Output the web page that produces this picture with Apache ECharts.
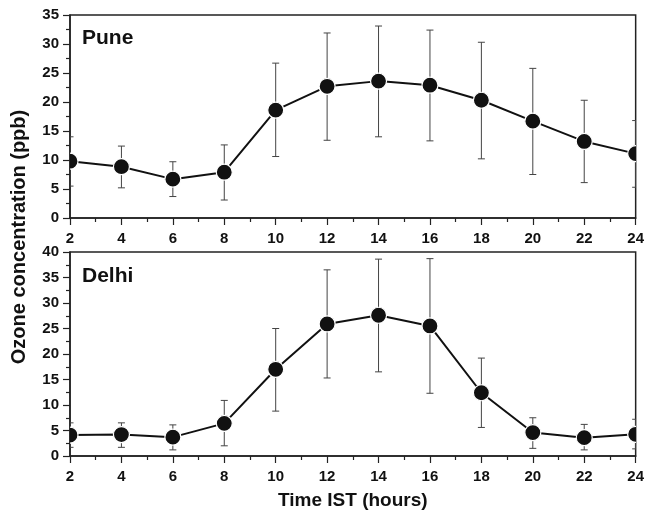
<!DOCTYPE html>
<html>
<head>
<meta charset="utf-8">
<script src="https://cdn.jsdelivr.net/npm/echarts@6/dist/echarts.min.js"></script>
<style>html,body{margin:0;padding:0;background:#fff;}#c{width:647px;height:517px;}</style>
</head>
<body>
<div id="c"></div>
<script>
var hours = [2, 4, 6, 8, 10, 12, 14, 16, 18, 20, 22, 24];
var puneMean  = [9.8, 8.85, 6.7, 7.9, 18.6, 22.7, 23.6, 22.9, 20.3, 16.7, 13.2, 11.1];
var puneUpper = [14.0, 12.4, 9.7, 12.6, 26.7, 31.9, 33.1, 32.4, 30.3, 25.8, 20.3, 16.8];
var puneLower = [5.5, 5.2, 3.7, 3.1, 10.6, 13.4, 14.0, 13.3, 10.2, 7.5, 6.1, 5.3];
var delhiMean  = [4.1, 4.2, 3.7, 6.4, 17.0, 25.9, 27.6, 25.5, 12.4, 4.6, 3.6, 4.25];
var delhiUpper = [6.5, 6.5, 6.1, 10.9, 25.0, 36.5, 38.6, 38.7, 19.2, 7.5, 6.2, 7.2];
var delhiLower = [1.7, 1.7, 1.2, 2.0, 8.8, 15.3, 16.5, 12.3, 5.6, 1.5, 1.2, 1.4];
var panelNames = ['Pune', 'Delhi'];
var xTitle = 'Time IST (hours)';
var yTitle = 'Ozone concentration (ppb)';

var FONT = "'Liberation Sans', Arial, Helvetica, sans-serif";
var AX = '#222';

function pairs(m) { return hours.map(function (h, i) { return [h, m[i]]; }); }
function errData(lo, hi) { return hours.map(function (h, i) { return [h, lo[i], hi[i]]; }); }

function errRender(params, api) {
  var x = api.value(0);
  var lo = api.coord([x, api.value(1)]);
  var hi = api.coord([x, api.value(2)]);
  var w = 3.5;
  var st = { stroke: '#444', lineWidth: 1 };
  return { type: 'group', children: [
    { type: 'line', shape: { x1: lo[0], y1: lo[1], x2: hi[0], y2: hi[1] }, style: st },
    { type: 'line', shape: { x1: hi[0] - w, y1: hi[1], x2: hi[0] + w, y2: hi[1] }, style: st },
    { type: 'line', shape: { x1: lo[0] - w, y1: lo[1], x2: lo[0] + w, y2: lo[1] }, style: st }
  ]};
}
function dotRender(params, api) {
  var p = api.coord([api.value(0), api.value(1)]);
  return { type: 'circle', shape: { cx: p[0], cy: p[1], r: 8 },
    style: { fill: '#111', stroke: '#fff', lineWidth: 1.2 } };
}

function xAx(gi, withName) {
  var a = {
    type: 'value', gridIndex: gi, min: 2, max: 24, interval: 2,
    axisLine: { show: true, onZero: false, lineStyle: { color: AX, width: 1.5 } },
    axisTick: { show: true, inside: false, length: 7, lineStyle: { color: AX, width: 1.2 } },
    minorTick: { show: true, splitNumber: 2, length: 4, lineStyle: { color: AX, width: 1.2 } },
    splitLine: { show: false },
    axisLabel: { color: '#111', fontFamily: FONT, fontWeight: 'bold', fontSize: 15, margin: 13 }
  };
  if (withName) {
    a.name = xTitle; a.nameLocation = 'middle'; a.nameGap = 35;
    a.nameTextStyle = { color: '#111', fontFamily: FONT, fontWeight: 'bold', fontSize: 19 };
  }
  return a;
}
function yAx(gi, max) {
  return {
    type: 'value', gridIndex: gi, min: 0, max: max, interval: 5,
    axisLine: { show: true, onZero: false, lineStyle: { color: AX, width: 1.5 } },
    axisTick: { show: true, inside: false, length: 7, lineStyle: { color: AX, width: 1.2 } },
    minorTick: { show: true, splitNumber: 2, length: 4, lineStyle: { color: AX, width: 1.2 } },
    splitLine: { show: false },
    axisLabel: { color: '#111', fontFamily: FONT, fontWeight: 'bold', fontSize: 15, margin: 11 }
  };
}

var chart = echarts.init(document.getElementById('c'), null, { renderer: 'canvas' });
chart.setOption({
  animation: false,
  backgroundColor: '#fff',
  title: [
    { text: panelNames[0], left: 77, top: 23, textStyle: { fontFamily: FONT, fontWeight: 'bold', fontSize: 21, color: '#111' } },
    { text: panelNames[1], left: 77, top: 261, textStyle: { fontFamily: FONT, fontWeight: 'bold', fontSize: 21, color: '#111' } }
  ],
  grid: [
    { left: 70, top: 15, width: 568, height: 203, show: true, borderColor: AX, borderWidth: 1.5, backgroundColor: 'transparent' },
    { left: 70, top: 252, width: 568, height: 204, show: true, borderColor: AX, borderWidth: 1.5, backgroundColor: 'transparent' }
  ],
  xAxis: [xAx(0, false), xAx(1, true)],
  yAxis: [yAx(0, 35), yAx(1, 40)],
  graphic: [
    { type: 'text', x: 19, y: 237, rotation: Math.PI / 2,
      style: { text: yTitle, font: 'bold 20px ' + FONT, fill: '#111', textAlign: 'center', textVerticalAlign: 'middle', align: 'center', verticalAlign: 'middle' } }
  ],
  series: [
    { type: 'custom', xAxisIndex: 0, yAxisIndex: 0, clip: true, z: 1, renderItem: errRender, data: errData(puneLower, puneUpper) },
    { type: 'line', xAxisIndex: 0, yAxisIndex: 0, clip: true, z: 2, symbol: 'none', lineStyle: { color: '#111', width: 2 }, data: pairs(puneMean) },
    { type: 'custom', xAxisIndex: 0, yAxisIndex: 0, clip: true, z: 3, renderItem: dotRender, data: pairs(puneMean) },
    { type: 'custom', xAxisIndex: 1, yAxisIndex: 1, clip: true, z: 1, renderItem: errRender, data: errData(delhiLower, delhiUpper) },
    { type: 'line', xAxisIndex: 1, yAxisIndex: 1, clip: true, z: 2, symbol: 'none', lineStyle: { color: '#111', width: 2 }, data: pairs(delhiMean) },
    { type: 'custom', xAxisIndex: 1, yAxisIndex: 1, clip: true, z: 3, renderItem: dotRender, data: pairs(delhiMean) }
  ]
});
</script>
</body>
</html>
